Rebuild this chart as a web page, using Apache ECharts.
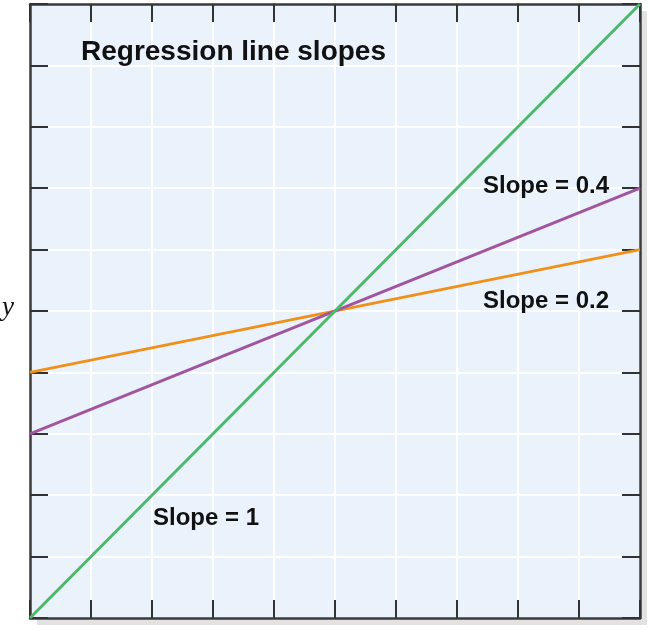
<!DOCTYPE html>
<html>
<head>
<meta charset="utf-8">
<script src="https://cdn.jsdelivr.net/npm/echarts@6/dist/echarts.min.js"></script>
<style>
html, body { margin: 0; padding: 0; background: #fff; }
#chart { width: 650px; height: 636px; }
</style>
</head>
<body>
<div id="chart"></div>
<script>
// end points of each regression line (x from 0 to 10)
const xEnds = [0, 10]
const slope1 = [0, 10]
const slope04 = [3, 7]
const slope02 = [4, 6]

const titleText = 'Regression line slopes'
const lineLabels = ['Slope = 0.4', 'Slope = 0.2', 'Slope = 1']

let chart = echarts.init(document.getElementById('chart'))

const tick = { show: true, inside: true, length: 18, lineStyle: { color: '#333', width: 2 } }
const axisLine = { show: true, onZero: false, lineStyle: { color: '#3a3a3a', width: 2.5 } }
const split = { show: true, lineStyle: { color: '#fff', width: 2 } }

function axis(pos, showSplit) {
    return {
        type: 'value',
        position: pos,
        min: 0,
        max: 10,
        interval: 1,
        axisLabel: { show: false },
        axisTick: tick,
        axisLine: axisLine,
        splitLine: showSplit ? split : { show: false }
    }
}

function pair(arr) {
    return xEnds.map((x, i) => [x, arr[i]])
}

const labelFont = { fontFamily: 'Liberation Sans', fontWeight: 'bold', fontSize: 24, fill: '#111' }

let option = {
    animation: false,
    grid: {
        left: 30,
        right: 10,
        top: 4,
        bottom: 18,
        show: true,
        backgroundColor: '#eaf3fc',
        borderWidth: 0,
        shadowColor: '#e2e2e2',
        shadowOffsetX: 7,
        shadowOffsetY: 7,
        shadowBlur: 0
    },
    xAxis: [axis('bottom', true), axis('top', false)],
    yAxis: [axis('left', true), axis('right', false)],
    series: [
        {
            type: 'line',
            data: pair(slope02),
            symbol: 'none',
            lineStyle: { color: '#f0901c', width: 3 }
        },
        {
            type: 'line',
            data: pair(slope04),
            symbol: 'none',
            lineStyle: { color: '#a2559f', width: 3 }
        },
        {
            type: 'line',
            data: pair(slope1),
            symbol: 'none',
            lineStyle: { color: '#4cb96a', width: 3 }
        }
    ],
    graphic: [
        { type: 'text', z: 100, left: 81, top: 38, style: { text: titleText, fontFamily: 'Liberation Sans', fontWeight: 'bold', fontSize: 28, fill: '#111' } },
        { type: 'text', z: 100, left: 483, top: 174, style: Object.assign({ text: lineLabels[0] }, labelFont) },
        { type: 'text', z: 100, left: 483, top: 289, style: Object.assign({ text: lineLabels[1] }, labelFont) },
        { type: 'text', z: 100, left: 153, top: 506, style: Object.assign({ text: lineLabels[2] }, labelFont) },
        { type: 'text', z: 100, left: 2, top: 294, style: { text: 'y', fontFamily: 'Liberation Serif', fontStyle: 'italic', fontSize: 27, fill: '#111' } }
    ]
}
chart.setOption(option)
</script>
</body>
</html>
